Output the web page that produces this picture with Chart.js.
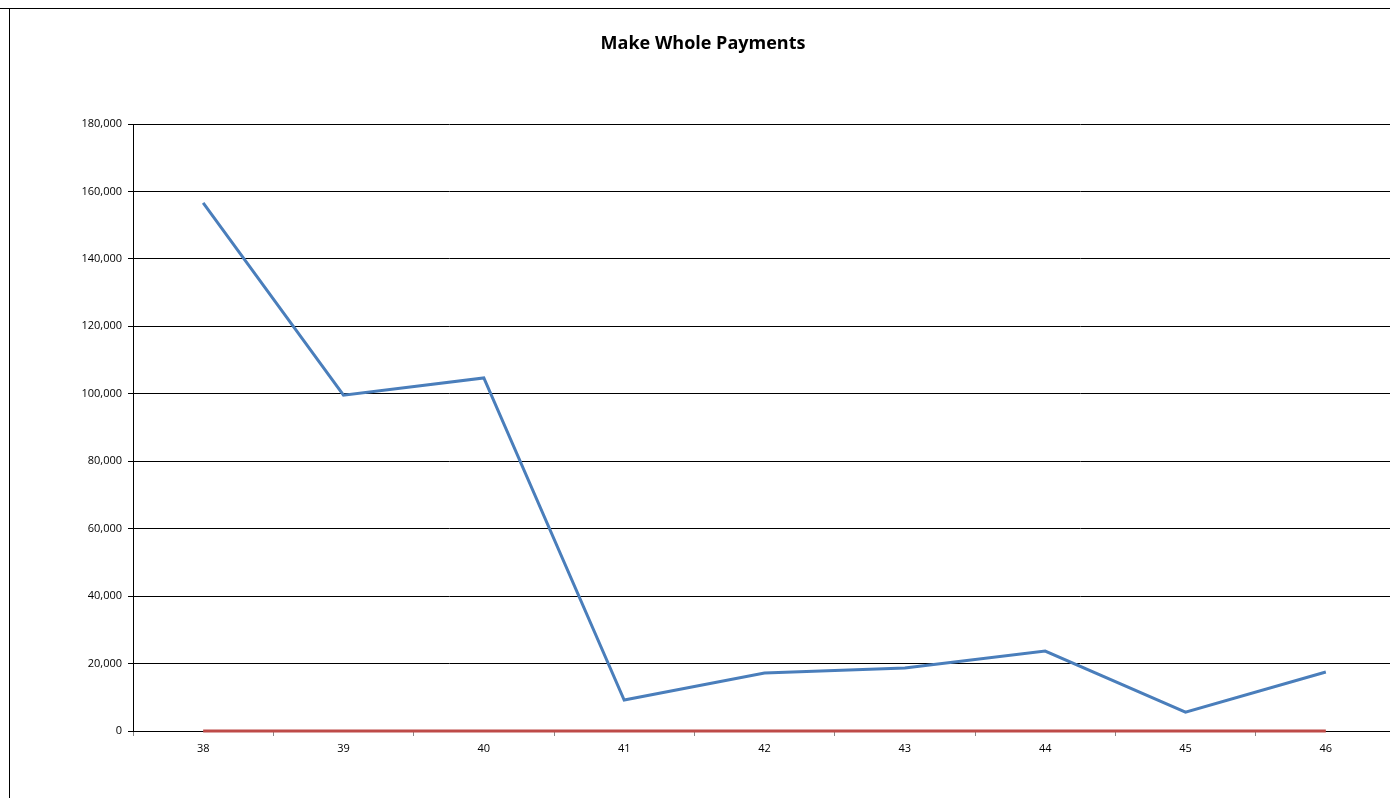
<!DOCTYPE html>
<html><head><script src="https://cdn.jsdelivr.net/npm/chart.js@4"></script>
<style>body{margin:0;overflow:hidden;background:#fff}#wrap{position:relative;width:1400px;height:798px}
#ft{position:absolute;left:0;top:8px;width:1390px;border-top:1px solid #000}#fl{position:absolute;left:9px;top:8px;height:790px;border-left:1px solid #000}</style></head>
<body><div id="wrap"><canvas id="c"></canvas><div id="ft"></div><div id="fl"></div></div>
<script>
const categories=['38','39','40','41','42','43','44','45','46'];
const seriesA=[156600,99600,104700,9200,17200,18700,23700,5600,17500];
const seriesB=[0,0,0,0,0,0,0,0,0];
new Chart(document.getElementById('c'),{type:'line',
data:{labels:categories,datasets:[
{data:seriesA,borderColor:'#4a7ebb',borderWidth:3,pointRadius:0,tension:0},
{data:seriesB,borderColor:'#be4b48',borderWidth:3,pointRadius:0,tension:0,clip:false}]},
options:{responsive:true,maintainAspectRatio:false,animation:false,
layout:{padding:{left:10,right:4,top:0,bottom:0}},
plugins:{legend:{display:false},tooltip:{enabled:false},
title:{display:true,text:'Make Whole Payments',color:'#000',font:{family:'Open Sans',size:18,weight:'bold'},padding:{top:33,bottom:69.4}}},
scales:{
x:{offset:true,grid:{offset:true,drawOnChartArea:false,color:'#888',tickLength:5},border:{color:'#000'},
ticks:{color:'#000',font:{family:'Open Sans',size:11},padding:6},afterFit:s=>{s.height=67}},
y:{min:0,max:180000,ticks:{stepSize:20000,color:'#000',font:{family:'Open Sans',size:11},padding:6,callback:v=>v.toLocaleString('en-US')},
grid:{color:'#000',tickLength:5},border:{color:'#000'},afterFit:s=>{s.width=123}}}}});
</script></body></html>
